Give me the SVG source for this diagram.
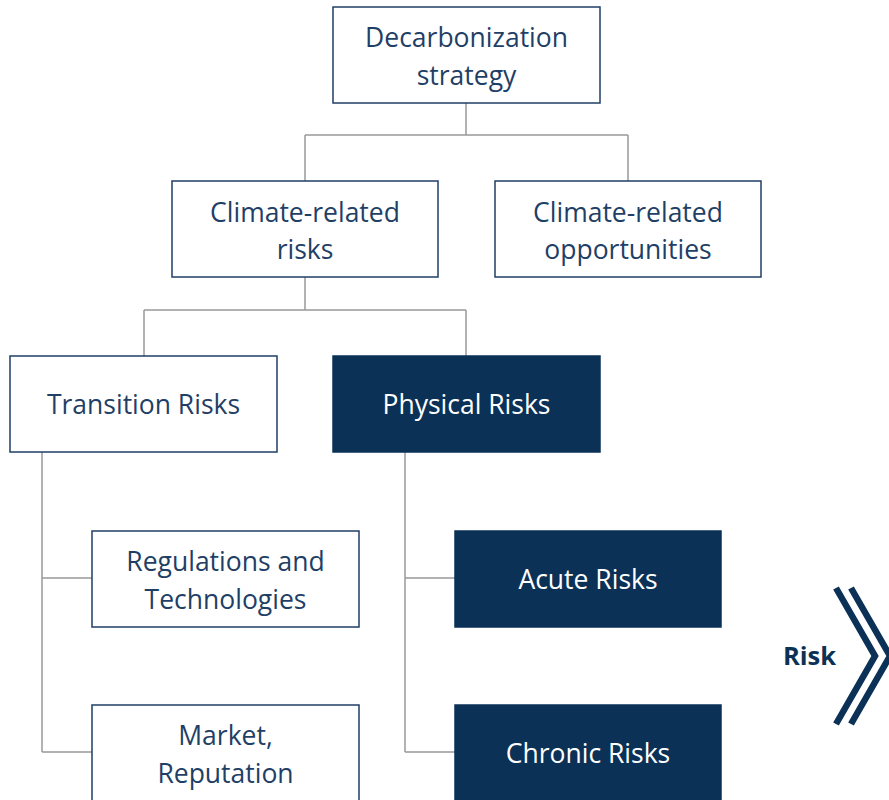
<svg xmlns="http://www.w3.org/2000/svg" width="889" height="800" viewBox="0 0 889 800">
<style>
.box{fill:#fff;stroke:#1f3f66;stroke-width:1.5}
.dark{fill:#0b3157;stroke:#0b3157;stroke-width:1.5}
.t{font-family:"Open Sans","Noto Sans",sans-serif;font-size:26.5px;fill:#1f3f66;text-anchor:middle}
.tw{font-family:"Open Sans","Noto Sans",sans-serif;font-size:26.5px;fill:#fff;text-anchor:middle}
.conn{fill:none;stroke:#999;stroke-width:1.5}
</style>
<rect width="889" height="800" fill="#fff"/>
<g id="connectors">
<path class="conn" d="M466,103V135M305,135H628M305,135V181M628,135V181"/>
<path class="conn" d="M305,277V310M144,310H466M144,310V356M466,310V356"/>
<path class="conn" d="M42,452V752M42,578H92M42,752H92"/>
<path class="conn" d="M405,452V752M405,578H455M405,752H455"/>
</g>
<g id="decarbonization">
<rect class="box" x="333" y="7" width="267" height="96"/>
<text class="t" x="466.5" y="47">Decarbonization</text>
<text class="t" x="466.5" y="85">strategy</text>
</g>
<g id="climate-risks">
<rect class="box" x="172" y="181" width="266" height="96"/>
<text class="t" x="305" y="222">Climate-related</text>
<text class="t" x="305" y="259">risks</text>
</g>
<g id="climate-opportunities">
<rect class="box" x="495" y="181" width="266" height="96"/>
<text class="t" x="628" y="222">Climate-related</text>
<text class="t" x="628" y="259">opportunities</text>
</g>
<g id="transition">
<rect class="box" x="10" y="356" width="267" height="96"/>
<text class="t" x="143.5" y="414">Transition Risks</text>
</g>
<g id="physical">
<rect class="dark" x="333" y="356" width="267" height="96"/>
<text class="tw" x="466.5" y="414">Physical Risks</text>
</g>
<g id="regulations">
<rect class="box" x="92" y="531" width="267" height="96"/>
<text class="t" x="225.5" y="571">Regulations and</text>
<text class="t" x="225.5" y="609">Technologies</text>
</g>
<g id="market">
<rect class="box" x="92" y="705" width="267" height="110"/>
<text class="t" x="225.5" y="745">Market,</text>
<text class="t" x="225.5" y="783">Reputation</text>
</g>
<g id="acute">
<rect class="dark" x="455" y="531" width="266" height="96"/>
<text class="tw" x="588" y="589">Acute Risks</text>
</g>
<g id="chronic">
<rect class="dark" x="455" y="705" width="266" height="110"/>
<text class="tw" x="588" y="763">Chronic Risks</text>
</g>
<g id="risk">
<text x="783" y="665" font-family="'Open Sans','Noto Sans',sans-serif" font-size="25.5" font-weight="bold" fill="#0b3157">Risk</text>
<polyline points="836,588 875,656 836,724" fill="none" stroke="#0b3157" stroke-width="6.5"/>
<polyline points="851,588 890,656 851,724" fill="none" stroke="#0b3157" stroke-width="6.5"/>
</g>
</svg>
